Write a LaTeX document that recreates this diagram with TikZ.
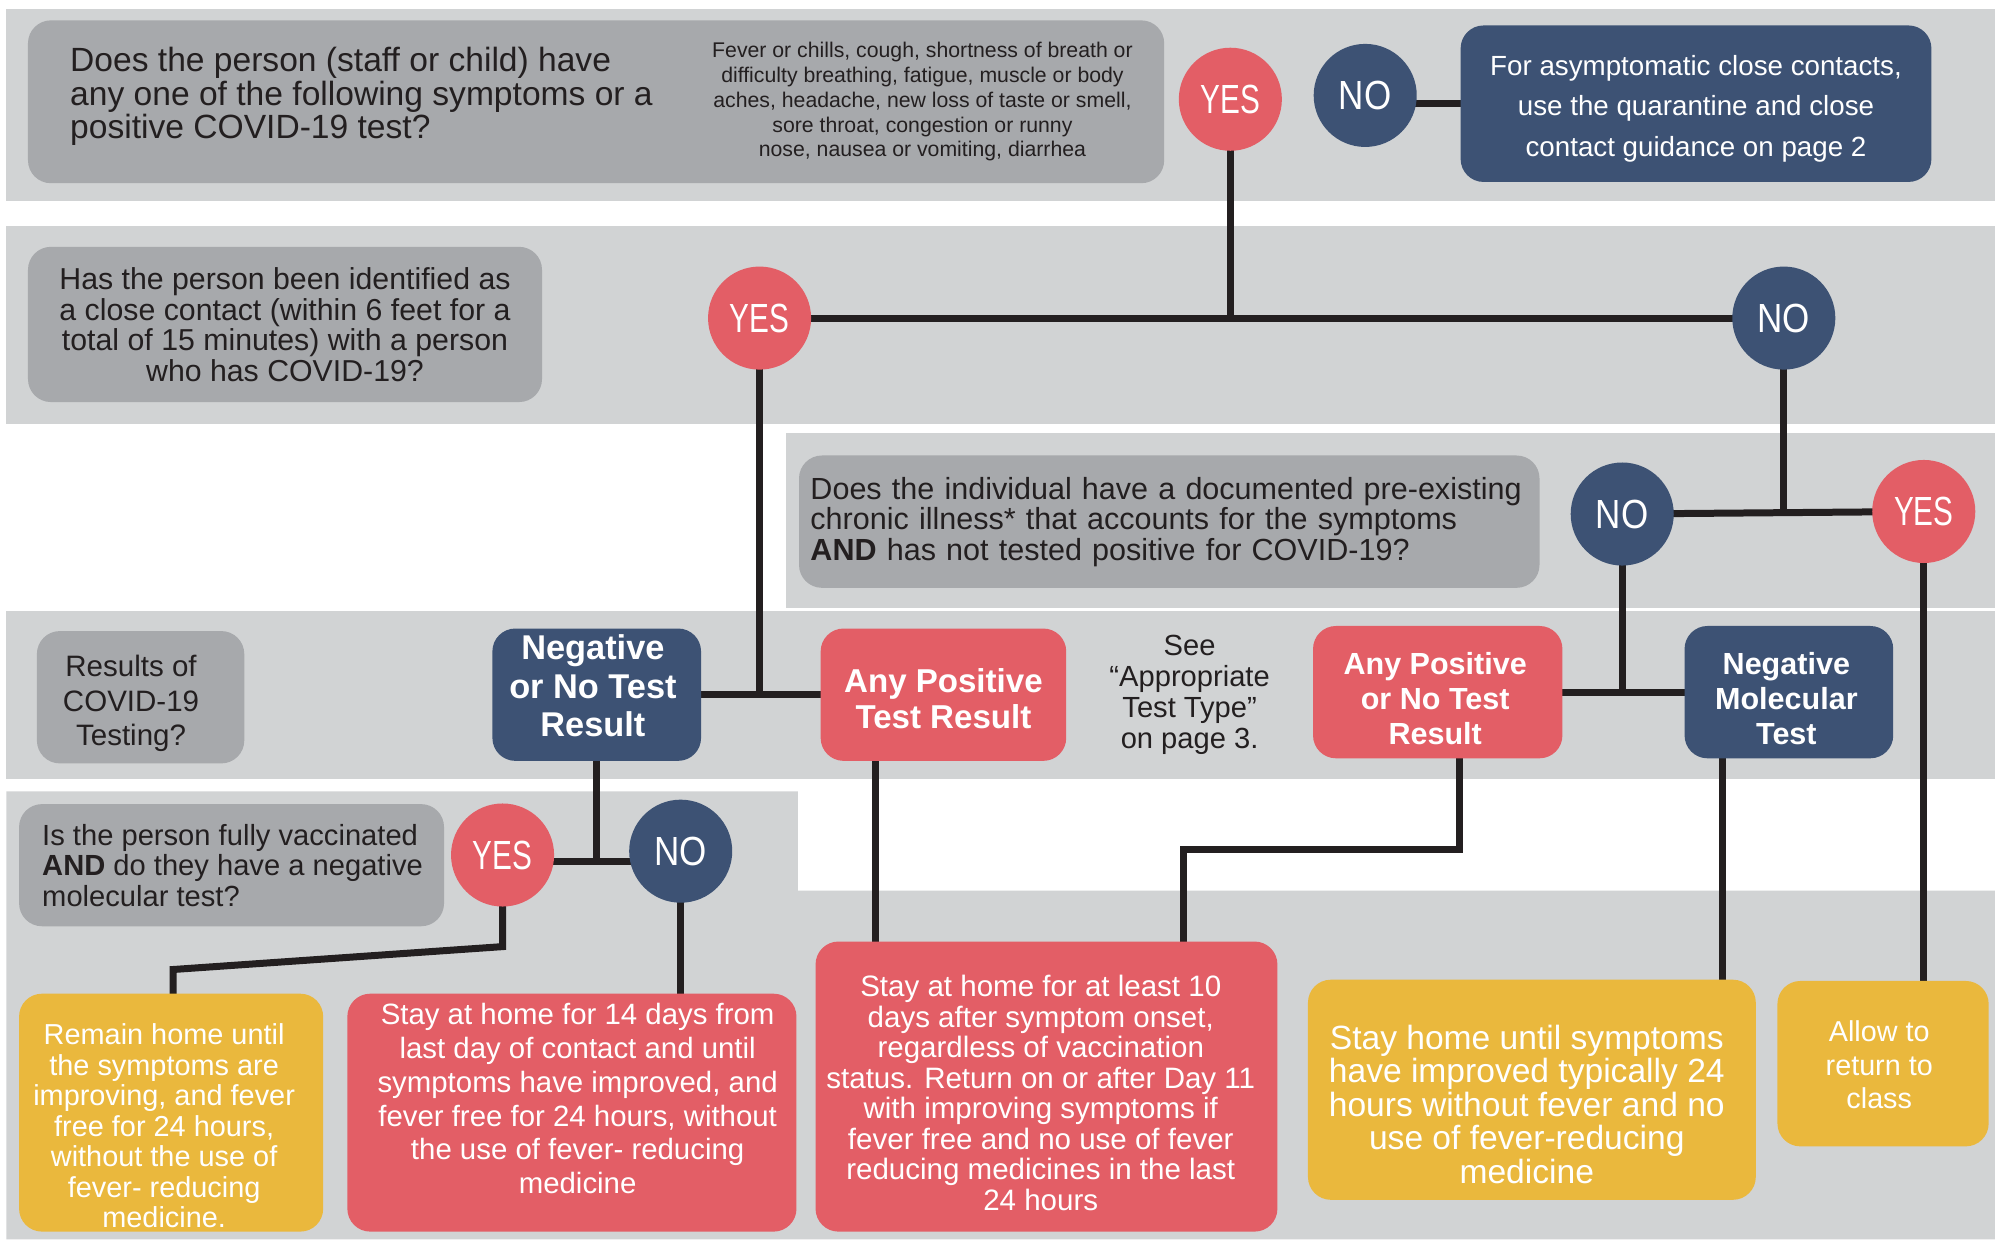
\documentclass[tikz,border=0pt]{standalone}
\usepackage{fontspec}
\setmainfont{Liberation Sans}
\newfontfamily\yesfont{Liberation Sans}[FakeStretch=0.73]
\newfontfamily\nofont{Liberation Sans}[FakeStretch=0.86]
\usetikzlibrary{calc}
\definecolor{bandgray}{HTML}{D1D3D4}
\definecolor{qgray}{HTML}{A7A9AC}
\definecolor{cred}{HTML}{E35E66}
\definecolor{cblue}{HTML}{3D5274}
\definecolor{cyellow}{HTML}{EAB83D}
\definecolor{cline}{HTML}{231F20}
\pgfdeclarelayer{bands}
\pgfdeclarelayer{lines}
\pgfsetlayers{bands,lines,main}
\newcommand{\fsz}[2]{\fontsize{#1}{#2}\selectfont}
\tikzset{
 box/.style={rectangle, rounded corners=18pt, inner sep=0pt, draw=none},
 qbox/.style={box, fill=qgray},
 redbox/.style={box, fill=cred},
 bluebox/.style={box, fill=cblue},
 yelbox/.style={box, fill=cyellow},
 yesc/.style={circle, fill=cred, minimum size=81pt, inner sep=0pt, text=white, font=\yesfont\fsz{32}{32}},
 noc/.style={yesc, fill=cblue, font=\nofont\fsz{32}{32}},
 conn/.style={draw=cline, line width=5.5pt},
 wtext/.style={text=white, align=center, inner sep=0pt},
 ktext/.style={text=cline, inner sep=0pt},
}
\begin{document}
\begin{tikzpicture}[x=1pt, y=-1pt]
\useasboundingbox (0,0) rectangle (1568,974);
\begin{pgfonlayer}{bands}
\fill[white] (0,0) rectangle (1568,974);
\fill[bandgray] (5,7) rectangle (1568,158);
\fill[bandgray] (5,178) rectangle (1568,333);
\fill[bandgray] (618,340) rectangle (1568,478);
\fill[bandgray] (5,480) rectangle (1568,612);
\fill[bandgray] (5,622) -- (627,622) -- (627,700) -- (1568,700) -- (1568,974) -- (5,974) -- cycle;
\end{pgfonlayer}

% band 1
\node[qbox, minimum width=893pt, minimum height=128pt] (q1) at (468.5,80) {};
\node[ktext, anchor=west, align=left, font=\fsz{26.4}{26.3}] (q1t) at (55,76) {Does the person (staff or child) have\\any one of the following symptoms or a\\positive COVID-19 test?};
\node[ktext, align=center, font=\fsz{16.7}{19.5}] (q1s) at (725,80) {Fever or chills, cough, shortness of breath or\\difficulty breathing, fatigue, muscle or body\\aches, headache, new loss of taste or smell,\\sore throat, congestion or runny\\nose, nausea or vomiting, diarrhea};
\node[yesc] (yes1) at (967,78) {YES};
\node[noc] (no1) at (1073,75) {NO};
\node[bluebox, minimum width=370pt, minimum height=123pt] (asym) at (1333,81.5) {};
\node[wtext, font=\fsz{21.8}{31.5}] (asymt) at (1333,85.5) {For asymptomatic close contacts,\\use the quarantine and close\\contact guidance on page 2};

% band 2
\node[qbox, minimum width=404pt, minimum height=122pt, ktext, align=center, font=\fsz{23.8}{24}] (q2) at (224,255) {Has the person been identified as\\a close contact (within 6 feet for a\\total of 15 minutes) with a person\\who has COVID-19?};
\node[yesc] (yes2) at (597,250) {YES};
\node[noc] (no2) at (1402,250) {NO};

% band 3
\node[qbox, minimum width=582pt, minimum height=104pt, ktext, inner xsep=9pt, text width=564pt, align=left, font=\fsz{24}{24}] (q3) at (919,410) {Does the individual have a documented pre-existing\\chronic illness* that accounts for the symptoms\\\textbf{AND} has not tested positive for COVID-19?};
\node[noc] (no3) at (1275,404) {NO};
\node[yesc] (yes3) at (1512,402) {YES};

% band 4
\node[qbox, minimum width=163pt, minimum height=104pt] (res) at (110.5,548) {};
\node[ktext, align=center, font=\fsz{23.2}{27}] (rest) at (103,553) {Results of\\COVID-19\\Testing?};
\node[bluebox, minimum width=164pt, minimum height=104pt] (negres) at (469,546) {};
\node[wtext, font=\bfseries\fsz{27}{30}] (negrest) at (466,539) {Negative\\or No Test\\Result};
\node[redbox, minimum width=193pt, minimum height=104pt] (pos) at (741.5,546) {};
\node[wtext, font=\bfseries\fsz{26}{28}] (post) at (741.5,549) {Any Positive\\Test Result};
\node[ktext, align=center, font=\fsz{22.9}{24.5}] (see) at (935,546) {See\\“Appropriate\\Test Type”\\on page 3.};
\node[redbox, minimum width=196pt, minimum height=104pt] (posno) at (1130,544) {};
\node[wtext, font=\bfseries\fsz{24}{27.5}] (posnot) at (1128,549) {Any Positive\\or No Test\\Result};
\node[bluebox, minimum width=164pt, minimum height=104pt] (negmol) at (1406,544) {};
\node[wtext, font=\bfseries\fsz{24}{27.5}] (negmolt) at (1404,549) {Negative\\Molecular\\Test};

% band 5
\node[qbox, minimum width=334pt, minimum height=96pt] (q5) at (182,680) {};
\node[ktext, anchor=west, align=left, font=\fsz{22.9}{24}] (q5t) at (33,680) {Is the person fully vaccinated\\\textbf{AND} do they have a negative\\molecular test?};
\node[yesc] (yes5) at (395,672) {YES};
\node[noc] (no5) at (535,669) {NO};

% outcomes
\node[yelbox, minimum width=239pt, minimum height=187pt] (out1) at (134.5,874.5) {};
\node[wtext, font=\fsz{22.7}{24}] (out1t) at (129,885) {Remain home until\\the symptoms are\\improving, and fever\\free for 24 hours,\\without the use of\\fever- reducing\\medicine.};
\node[redbox, minimum width=353pt, minimum height=187pt] (out2) at (449.5,874.5) {};
\node[wtext, font=\fsz{23.1}{26.5}] (out2t) at (454,863.5) {Stay at home for 14 days from\\last day of contact and until\\symptoms have improved, and\\fever free for 24 hours, without\\the use of fever- reducing\\medicine};
\node[redbox, minimum width=363pt, minimum height=228pt] (out3) at (822.5,854) {};
\node[wtext, font=\fsz{23.2}{24}] (out3t) at (818,859) {Stay at home for at least 10\\days after symptom onset,\\regardless of vaccination\\status. Return on or after Day 11\\with improving symptoms if\\fever free and no use of fever\\reducing medicines in the last\\24 hours};
\node[yelbox, minimum width=352pt, minimum height=173pt] (out4) at (1204,856.5) {};
\node[wtext, font=\fsz{26.4}{26.3}] (out4t) at (1200,868) {Stay home until symptoms\\have improved typically 24\\hours without fever and no\\use of fever-reducing\\medicine};
\node[yelbox, minimum width=166pt, minimum height=130pt] (out5) at (1480,836) {};
\node[wtext, font=\fsz{22.6}{26.5}] (out5t) at (1477,837) {Allow to\\return to\\class};

% connector helper coordinates
\coordinate (j5) at (466,677);
\coordinate (k1) at (395,744);
\coordinate (k2) at (136,762);
\coordinate (p1) at (688,600);
\coordinate (b0) at (1147,668);
\coordinate (b1) at (930,668);
\coordinate (m1) at (1354,700);

\begin{pgfonlayer}{lines}
\draw[conn] (asym.center) -- (asym.center -| no1.center);
\draw[conn] (yes1.center) -- (yes1.center |- yes2.center);
\draw[conn] (yes2.center) -- (no2.center);
\draw[conn] (yes2.center) -- (yes2.center |- pos.center);
\draw[conn] (negres.center) -- (pos.center);
\draw[conn] (no2.center) -- (no2.center |- no3.center);
\draw[conn] (no3.center) -- (yes3.center);
\draw[conn] (no3.center) -- (no3.center |- posno.center);
\draw[conn] (posno.center) -- (negmol.center);
\draw[conn] (yes3.center) -- (yes3.center |- out5.center);
\draw[conn] (negres.center) -- (negres.center |- j5);
\draw[conn] (yes5.center |- j5) -- (no5.center |- j5);
\draw[conn] (yes5.center) -- (k1) -- (k2) -- (k2 |- out1.center);
\draw[conn] (no5.center) -- (no5.center |- out2.center);
\draw[conn] (p1 |- pos.center) -- (p1 |- out3.center);
\draw[conn] (b0 |- posno.center) -- (b0) -- (b1) -- (b1 |- out3.center);
\draw[conn] (m1 |- negmol.center) -- (m1 |- out4.center);
\end{pgfonlayer}
\end{tikzpicture}
\end{document}
